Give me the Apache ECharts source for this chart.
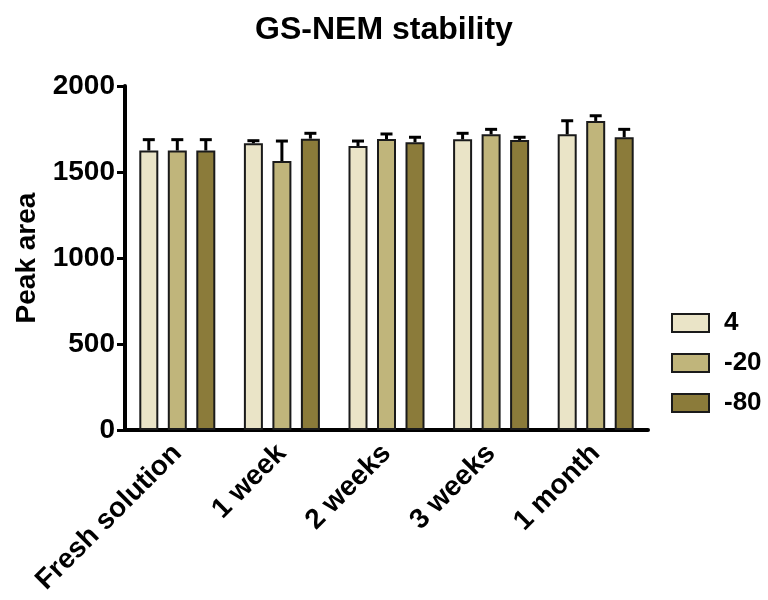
<!DOCTYPE html>
<html>
<head>
<meta charset="utf-8">
<script src="https://cdn.jsdelivr.net/npm/echarts@6/dist/echarts.min.js"></script>
<style>
  html, body { margin: 0; padding: 0; background: #fff; }
  #chart { width: 768px; height: 600px; }
</style>
</head>
<body>
<div id="chart"></div>
<script>
// 数据
const categories = ['Fresh solution', '1 week', '2 weeks', '3 weeks', '1 month'];
const seriesNames = ['4', '-20', '-80'];
const mean4 = [1625, 1667, 1651, 1690, 1719];
const err4 = [63, 15, 29, 35, 79];
const mean20 = [1625, 1564, 1692, 1719, 1797];
const err20 = [63, 116, 29, 29, 30];
const mean80 = [1625, 1694, 1673, 1686, 1702];
const err80 = [63, 31, 29, 16, 46];
const yTicks = [0, 500, 1000, 1500, 2000];

const colors = ['#EAE4C7', '#C0B57B', '#8B7B3A'];
const means = [mean4, mean20, mean80];
const errs = [err4, err20, err80];

const barWidth = 19;
const barStep = 28.5; // barWidth + gap

const font = 'Liberation Sans, Arial, sans-serif';

const chart = echarts.init(document.getElementById('chart'));

const barSeries = seriesNames.map((name, i) => ({
  name,
  type: 'bar',
  data: means[i],
  barWidth,
  barGap: '50%',
  itemStyle: {
    color: colors[i],
    borderColor: '#1a1a1a',
    borderWidth: 2,
  },
  z: 2,
}));

// 误差线（只画上半部分）
const errSeries = seriesNames.map((name, i) => ({
  type: 'custom',
  data: means[i].map((m, j) => [j, m, errs[i][j]]),
  z: 3,
  silent: true,
  renderItem(params, api) {
    const base = api.coord([api.value(0), api.value(1)]);
    const top = api.coord([api.value(0), api.value(1) + api.value(2)]);
    const x = base[0] + (i - 1) * barStep;
    const style = { stroke: '#000', lineWidth: 3 };
    return {
      type: 'group',
      children: [
        { type: 'line', shape: { x1: x, y1: base[1], x2: x, y2: top[1] }, style },
        { type: 'line', shape: { x1: x - 6, y1: top[1], x2: x + 6, y2: top[1] }, style },
      ],
    };
  },
}));

const option = {
  animation: false,
  backgroundColor: '#fff',
  title: {
    text: 'GS-NEM stability',
    left: 'center',
    top: 9,
    textStyle: { fontFamily: font, fontSize: 32, fontWeight: 'bold', color: '#000' },
  },
  legend: {
    data: seriesNames,
    orient: 'vertical',
    left: 666,
    top: 305,
    itemWidth: 37,
    itemHeight: 18,
    itemGap: 14,
    icon: 'rect',
    textStyle: {
      fontFamily: font, fontSize: 26, fontWeight: 'bold', color: '#000',
      lineHeight: 26, padding: [0, 0, 0, 10],
    },
  },
  grid: {
    left: 125,
    right: 120,
    top: 86,
    bottom: 170,
  },
  xAxis: {
    type: 'category',
    data: categories,
    axisLine: { lineStyle: { color: '#000', width: 4 } },
    axisTick: { alignWithLabel: true, length: 8, lineStyle: { color: '#000', width: 3 } },
    axisLabel: {
      rotate: 45,
      margin: 19,
      interval: 0,
      fontFamily: font, fontSize: 28, fontWeight: 'bold', color: '#000',
    },
  },
  yAxis: {
    type: 'value',
    min: yTicks[0],
    max: yTicks[yTicks.length - 1],
    interval: 500,
    name: 'Peak area',
    nameLocation: 'middle',
    nameGap: 84,
    nameTextStyle: { fontFamily: font, fontSize: 28, fontWeight: 'bold', color: '#000' },
    splitLine: { show: false },
    axisLine: { show: true, lineStyle: { color: '#000', width: 4 } },
    axisTick: { show: true, length: 8, lineStyle: { color: '#000', width: 3 } },
    axisLabel: {
      margin: 10,
      formatter: (v) => String(v),
      fontFamily: font, fontSize: 28, fontWeight: 'bold', color: '#000',
    },
  },
  series: [...barSeries, ...errSeries],
};

chart.setOption(option);
</script>
</body>
</html>
